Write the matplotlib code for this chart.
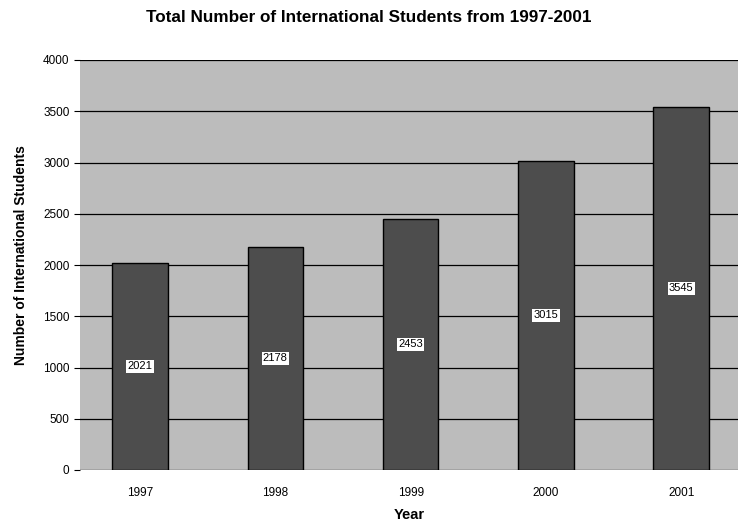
import matplotlib
matplotlib.use("Agg")
import matplotlib.pyplot as plt

years = ["1997", "1998", "1999", "2000", "2001"]
students = [2021, 2178, 2453, 3015, 3545]
yticks = [0, 500, 1000, 1500, 2000, 2500, 3000, 3500, 4000]

plt.rcParams['font.family'] = ['Liberation Sans', 'DejaVu Sans']

fig = plt.figure(figsize=(7.38, 5.22), dpi=100)
ax = fig.add_axes([80/738, 1-470/522, 1-80/738, (470-60)/522])
ax.set_facecolor("#bcbcbc")

x = list(range(len(years)))
ax.set_axisbelow(True)
ax.yaxis.grid(True, color="black", linewidth=0.9)
bars = ax.bar(x, students, width=0.41, color="#4d4d4d", edgecolor="black", linewidth=1.0)
for xi, v in zip(x, students):
    ax.text(xi, v/2, str(v), ha="center", va="center", fontsize=8,
            bbox=dict(facecolor="white", edgecolor="none", pad=1.0))

ax.set_ylim(0, 4000)
ax.set_xlim(-0.444, 4.42)
ax.set_yticks(yticks)
ax.set_xticks(x)
ax.set_xticklabels(years, fontsize=8.5)
ax.tick_params(axis="y", labelsize=8.5, length=4, width=0.8)
ax.tick_params(axis="x", length=0, pad=12)
for s in ax.spines.values():
    s.set_visible(False)

ax.set_xlabel("Year", fontsize=10.5, fontweight="bold", labelpad=7)
ax.set_ylabel("Number of International Students", fontsize=10, fontweight="bold", labelpad=10)
ax.yaxis.set_label_coords(-0.079, 0.524)
fig.text(0.5, 1-17/522, "Total Number of International Students from 1997-2001",
         ha="center", va="center", fontsize=12.3, fontweight="bold")

fig.savefig("out.png", dpi=100)
